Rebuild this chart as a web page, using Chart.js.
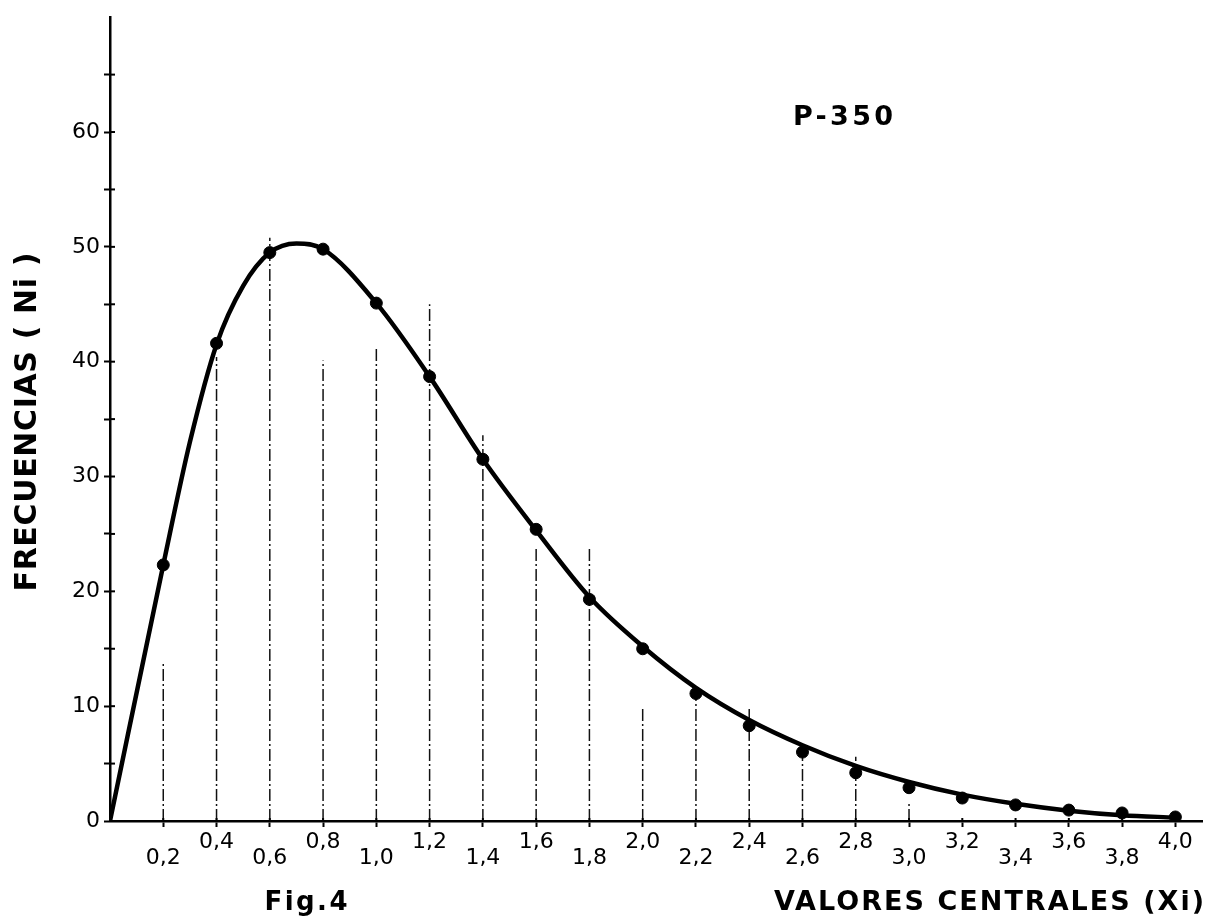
<!DOCTYPE html>
<html><head><meta charset="utf-8">
<script src="https://cdn.jsdelivr.net/npm/chart.js@4"></script>
<style>html,body{margin:0;padding:0;background:#fff;}canvas{display:block;}</style>
</head><body>
<canvas id="c" width="1209" height="922"></canvas>
<script>
// ---- data ----
const xValues     = [0.2,0.4,0.6,0.8,1.0,1.2,1.4,1.6,1.8,2.0,2.2,2.4,2.6,2.8,3.0,3.2,3.4,3.6,3.8,4.0];
const pointValues = [22.3,41.6,49.5,49.8,45.1,38.7,31.5,25.4,19.3,15.0,11.1,8.3,6.0,4.2,2.9,2.0,1.4,0.95,0.7,0.35];
const barHeights  = [13.7,40.4,50.8,40.1,41.1,45.0,33.6,23.8,23.7,9.8,11.2,9.9,6.4,5.6,1.6,0,0,0,0,0];
const curveX      = [0,0.2,0.3,0.4,0.5,0.6,0.7,0.8,1.0,1.2,1.4,1.6,1.8,2.0,2.2,2.4,2.6,2.8,3.0,3.2,3.4,3.6,3.8,4.0];
const curveY      = [0,22.3,33.0,41.5,46.6,49.5,50.3,49.8,45.1,38.7,31.5,25.3,19.5,15.2,11.6,8.8,6.6,4.8,3.4,2.3,1.5,0.9,0.5,0.3];
const xTickLabels = ['0,2','0,4','0,6','0,8','1,0','1,2','1,4','1,6','1,8','2,0','2,2','2,4','2,6','2,8','3,0','3,2','3,4','3,6','3,8','4,0'];
const yTickLabels = ['0','10','20','30','40','50','60'];
const yTitle = 'FRECUENCIAS ( Ni )';
const xTitle = 'VALORES CENTRALES (Xi)';
const figLabel = 'Fig.4';
const sampleLabel = 'P-350';

// ---- build datasets ----
const barSegments = [];
xValues.forEach((x, i) => {
  if (barHeights[i] > 0) {
    barSegments.push({x: x, y: 0}, {x: x, y: barHeights[i]}, {x: x, y: null});
  }
});
const curveData = curveX.map((x, i) => ({x: x, y: curveY[i]}));
const pointData = xValues.map((x, i) => ({x: x, y: pointValues[i]}));

function fitText(ctx, text, cx, cy, font, width, rotate) {
  ctx.save();
  ctx.font = font;
  ctx.letterSpacing = '0px';
  const w = ctx.measureText(text).width;
  const ls = (width - w) / Math.max(1, text.length - 1);
  ctx.letterSpacing = ls + 'px';
  ctx.fillStyle = '#000';
  ctx.textBaseline = 'middle';
  ctx.textAlign = 'left';
  ctx.translate(cx, cy);
  if (rotate) ctx.rotate(-Math.PI / 2);
  ctx.fillText(text, -width / 2, 0);
  ctx.restore();
}

const decorations = {
  id: 'decorations',
  afterDraw(chart) {
    const ctx = chart.ctx;
    const xs = chart.scales.x, ys = chart.scales.y;
    const area = chart.chartArea;
    ctx.save();
    ctx.strokeStyle = '#000';
    ctx.lineWidth = 2;
    // inward tick marks (ticks cross the axes)
    ys.ticks.forEach(t => {
      if (t.value >= 70) return;
      const p = ys.getPixelForValue(t.value);
      ctx.beginPath(); ctx.moveTo(area.left, p); ctx.lineTo(area.left + 5, p); ctx.stroke();
    });
    xs.ticks.forEach(t => {
      if (t.value <= 0) return;
      const p = xs.getPixelForValue(t.value);
      ctx.beginPath(); ctx.moveTo(p, area.bottom); ctx.lineTo(p, area.bottom - 3); ctx.stroke();
    });
    ctx.restore();
    fitText(ctx, yTitle, 28, 422, 'bold 30px "DejaVu Sans"', 339, true);
    fitText(ctx, xTitle, 989, 903, 'bold 27px "DejaVu Sans"', 430, false);
    fitText(ctx, figLabel, 306, 903, 'bold 26px "DejaVu Sans"', 83, false);
    fitText(ctx, sampleLabel, 843, 118, 'bold 27px "DejaVu Sans"', 100, false);
  }
};

new Chart(document.getElementById('c'), {
  type: 'scatter',
  data: {
    datasets: [
      {
        label: 'barras',
        data: barSegments,
        showLine: true,
        spanGaps: false,
        borderColor: '#111',
        borderWidth: 1.5,
        borderDash: [12, 3, 2, 3],
        pointRadius: 0,
        tension: 0,
        order: 3
      },
      {
        label: 'curva',
        data: curveData,
        showLine: true,
        borderColor: '#000',
        borderWidth: 4.5,
        pointRadius: 0,
        cubicInterpolationMode: 'monotone',
        order: 2
      },
      {
        label: 'frecuencias',
        data: pointData,
        showLine: false,
        backgroundColor: '#000',
        borderColor: '#000',
        pointRadius: 6,
        order: 1
      }
    ]
  },
  options: {
    responsive: false,
    animation: false,
    events: [],
    layout: { padding: { left: 0, right: 7, top: 16, bottom: 0 } },
    plugins: { legend: { display: false }, tooltip: { enabled: false } },
    scales: {
      x: {
        type: 'linear',
        min: 0, max: 4.1,
        afterFit(scale) { scale.height = 101; },
        border: { display: true, color: '#000', width: 2.5 },
        grid: {
          drawOnChartArea: false, drawTicks: true, tickLength: 6, tickWidth: 2,
          color: (c) => (c.tick && c.tick.value > 0 && c.tick.value < 4.05) ? '#000' : 'rgba(0,0,0,0)'
        },
        ticks: {
          stepSize: 0.2,
          includeBounds: false,
          autoSkip: false,
          maxRotation: 0,
          padding: 7,
          color: '#000',
          font: { family: '"DejaVu Sans"', size: 22, lineHeight: 0.73 },
          callback: (v) => {
            const i = Math.round(v / 0.2) - 1;
            if (i < 0 || i >= xTickLabels.length) return '';
            return (i % 2 === 0) ? ['', xTickLabels[i]] : xTickLabels[i];
          }
        }
      },
      y: {
        type: 'linear',
        min: 0, max: 70,
        afterFit(scale) { scale.width = 110; },
        border: { display: true, color: '#000', width: 2.5 },
        grid: {
          drawOnChartArea: false, drawTicks: true, tickLength: 6, tickWidth: 2,
          color: (c) => (c.tick && c.tick.value < 70) ? '#000' : 'rgba(0,0,0,0)'
        },
        ticks: {
          stepSize: 5,
          autoSkip: false,
          padding: 4,
          color: '#000',
          font: { family: '"DejaVu Sans"', size: 22 },
          callback: (v) => {
            if (v % 10 !== 0) return '';
            const i = v / 10;
            return i < yTickLabels.length ? yTickLabels[i] : '';
          }
        }
      }
    }
  },
  plugins: [decorations]
});
</script>
</body></html>
